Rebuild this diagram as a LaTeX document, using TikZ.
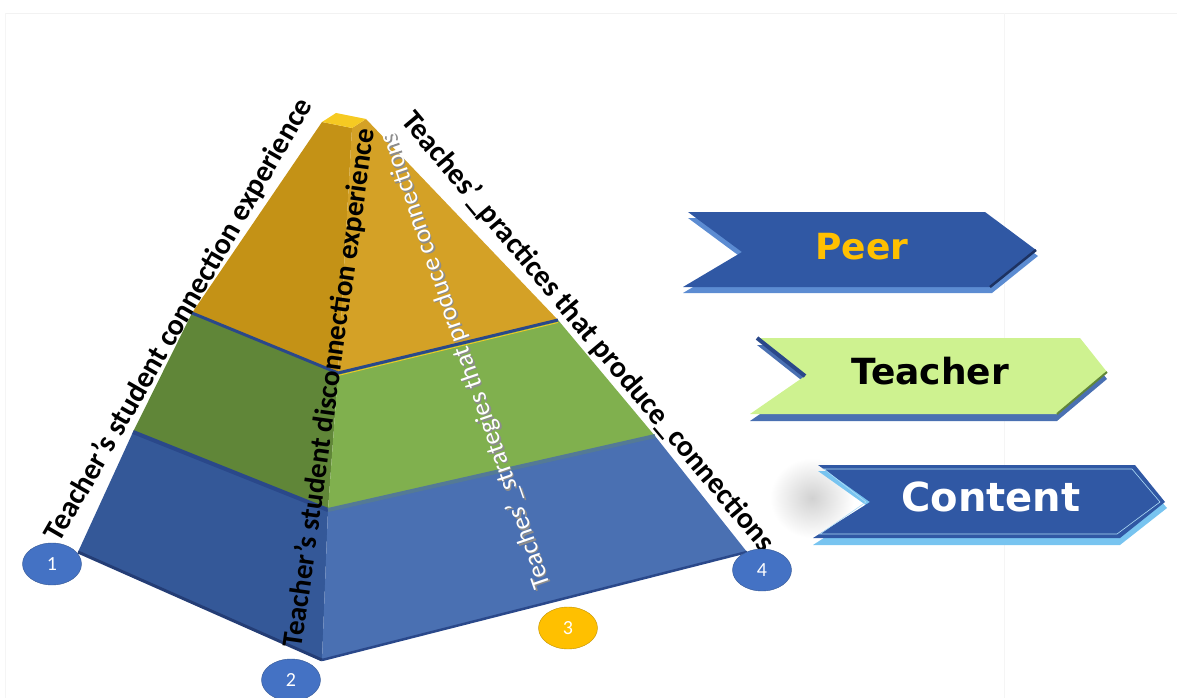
\documentclass[tikz,border=0pt]{standalone}
\usepackage{fontspec}
\setmainfont{Carlito}
\newfontfamily\bannerfont{DejaVu Sans}
\usepackage{xcolor}
\usepackage{tikz}
\usetikzlibrary{shapes.geometric,calc}

\definecolor{goldL}{RGB}{196,146,22}
\definecolor{goldR}{RGB}{212,161,38}
\definecolor{goldTop}{RGB}{246,202,34}
\definecolor{greenL}{RGB}{96,134,56}
\definecolor{greenR}{RGB}{128,176,78}
\definecolor{blueL}{RGB}{52,88,152}
\definecolor{blueR}{RGB}{74,112,178}
\definecolor{rim}{RGB}{42,72,138}
\definecolor{rimR}{RGB}{84,122,150}
\definecolor{markBlue}{RGB}{68,114,196}
\definecolor{markGold}{RGB}{255,192,0}
\definecolor{peerBlue}{RGB}{48,88,164}
\definecolor{teachGreen}{RGB}{206,242,144}
\definecolor{edgeBlue}{RGB}{92,140,210}
\definecolor{skyBlue}{RGB}{120,196,240}

\begin{document}
\begin{tikzpicture}[x=1pt, y=-1pt,
  slantlabel/.style={font=\bfseries\fontsize{#1}{#1}\selectfont, inner sep=0pt},
  whitelabel/.style={rotate=109, inner sep=0pt, font=\fontsize{26}{26}\selectfont},
  marker/.style={ellipse, minimum width=59pt, minimum height=42pt, inner sep=0pt, text=white, font=\fontsize{20}{22}\selectfont, draw=#1!75!black, fill=#1},
  banner/.style={font=\bannerfont\bfseries\fontsize{36}{38}\selectfont, inner sep=0pt},
  extrude/.style={fill=#1},
  rimline/.style={draw=#1, line width=4pt, line join=round}]

  \useasboundingbox (0,0) rectangle (1177,698);
  \draw[black!5] (5,13) -- (1177,13);
  \draw[black!4] (5,13) -- (5,698);
  \draw[black!4] (1004,13) -- (1004,698);

  \coordinate (capL) at (322,122);
  \coordinate (capB) at (336,113);
  \coordinate (capR) at (366,119);
  \coordinate (capF) at (352,128);
  \coordinate (g1) at (192,313);
  \coordinate (g2) at (338,373);
  \coordinate (g3) at (558,320);
  \coordinate (m1) at (133,432);
  \coordinate (m2) at (328,510);
  \coordinate (m3) at (655,436);
  \coordinate (b1) at (78,552);
  \coordinate (b2) at (322,660);
  \coordinate (b3) at (747,552);

  \fill[blueL] (m1) -- (m2) -- (b2) -- (b1) -- cycle;
  \fill[blueR] (m2) -- (m3) -- (b3) -- (b2) -- cycle;
  \fill[greenL] (g1) -- (g2) -- (m2) -- (m1) -- cycle;
  \fill[greenR] (g2) -- (g3) -- (m3) -- (m2) -- cycle;
  \fill[goldL] (capL) -- (capF) -- (g2) -- (g1) -- cycle;
  \fill[goldR] (capF) -- (capR) -- (g3) -- (g2) -- cycle;
  \fill[goldTop] (capL) -- (capB) -- (capR) -- (capF) -- cycle;

  \path[rimline=rim] (m1) -- (m2);
  \path[rimline=rimR] (m2) -- (m3);
  \path[rimline=rim, line width=3pt] (g1) -- (g2) -- (g3);
  \draw[goldTop, line width=0.8pt] ($(g2)+(0,2.5)$) -- ($(g3)+(0,2.5)$);
  \draw[rim!85!black, line width=3pt] (b1) -- (b2);
  \draw[rim, line width=2.5pt] (b2) -- (b3);

  \node[slantlabel=30, rotate=60] (conn) at (179,320) {Teacher’s student connection experience};
  \node[slantlabel=29, rotate=82] (disconn) at (330,388) {Teacher’s student disconnection experience};
  \node[slantlabel=30, rotate=-50] (practices) at (588,332) {Teaches’\_practices that produce\_connections};
  \node[whitelabel, text=black!45] (strategiesshadow) at (467.5,361.5) {Teaches’\_strategies that produce connections};
  \node[whitelabel, text=white] (strategies) at (466,360) {Teaches’\_strategies that produce connections};

  \node[marker=markBlue] (n1) at (52,564) {1};
  \node[marker=markBlue] (n2) at (291,680) {2};
  \node[marker=markGold] (n3) at (568,628) {3};
  \node[marker=markBlue] (n4) at (762,570) {4};

  \path[extrude=edgeBlue] (688,218) -- (985,218) -- (1038,256) -- (992,293) -- (683,293) -- (742,258) -- cycle;
  \fill[peerBlue] (688,212) -- (985,212) -- (1036,250) -- (990,287) -- (683,287) -- (742,252) -- cycle;
  \draw[rim!70!black, line width=2.5pt] (990,287) -- (1036,250);
  \node[banner, text=markGold] (peer) at (862,247) {Peer};

  \path[extrude=blueR] (757,345) -- (1080,345) -- (1107,379) -- (1057,421) -- (750,421) -- (805,383) -- cycle;
  \fill[teachGreen] (757,338) -- (1080,338) -- (1107,372) -- (1057,414) -- (750,414) -- (805,376) -- cycle;
  \draw[rim, line width=4pt] (757,338) -- (805,376);
  \draw[greenL, line width=2pt] (1057,414) -- (1107,372);
  \node[banner] (teacher) at (930,371) {Teacher};

  \shade[inner color=black!18, outer color=white] (812,498) ellipse [x radius=42pt, y radius=40pt];
  \path[extrude=skyBlue] (818,471) -- (1135,471) -- (1167,508) -- (1120,545) -- (813,545) -- (870,508) -- cycle;
  \fill[peerBlue] (818,465) -- (1135,465) -- (1165,502) -- (1120,538) -- (813,538) -- (870,502) -- cycle;
  \draw[skyBlue!60!white, line width=0.6pt] (824,469) -- (1132,469) -- (1160,502) -- (1117,534) -- (820,534) -- (866,502) -- cycle;
  \node[banner, text=white, font=\bannerfont\bfseries\fontsize{40}{42}\selectfont] (content) at (991,497) {Content};
\end{tikzpicture}
\end{document}
